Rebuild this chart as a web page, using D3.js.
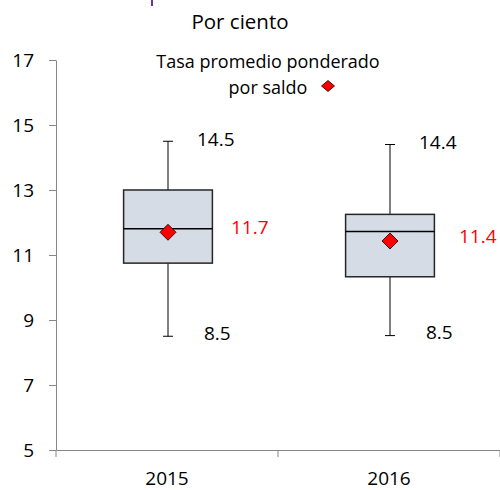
<!DOCTYPE html>
<html><head><meta charset="utf-8">
<script src="https://cdn.jsdelivr.net/npm/d3@7"></script>
<style>body{margin:0;background:#fff}svg{display:block;font-family:"Open Sans",sans-serif}</style>
</head><body>
<svg id="c" width="500" height="490"></svg>
<script>
const categories = ["2015", "2016"];
const whiskerMin = [8.5, 8.52];
const q1 = [10.75, 10.33];
const median = [11.81, 11.72];
const q3 = [13.0, 12.25];
const whiskerMax = [14.5, 14.4];
const meanRate = [11.7, 11.43];
const maxLabels = ["14.5", "14.4"];
const minLabels = ["8.5", "8.5"];
const meanLabels = ["11.7", "11.4"];
const yTicks = [5, 7, 9, 11, 13, 15, 17];

const svg = d3.select("#c");
const y = d3.scaleLinear().domain([5, 17]).range([450, 60]);
const x = d3.scaleBand().domain(categories).range([56, 500]).padding(0);
const fs = 19;

// purple fragment of a title cut off above the picture
svg.append("line").attr("x1", 152).attr("x2", 152).attr("y1", 0).attr("y2", 6)
  .attr("stroke", "#7030a0").attr("stroke-width", 2);

svg.append("text").attr("x", 240).attr("y", 29).attr("text-anchor", "middle")
  .attr("font-size", 20.5).attr("fill", "#000").text("Por ciento");

// y axis
const ya = svg.append("g").attr("transform", "translate(56,0)")
  .call(d3.axisLeft(y).tickValues(yTicks).tickSize(7).tickSizeOuter(0).tickPadding(15));
ya.select(".domain").attr("stroke", "#868686");
ya.selectAll(".tick line").attr("stroke", "#868686");
ya.selectAll(".tick text").attr("font-size", fs).attr("font-family", "Open Sans").attr("fill", "#000");

// x axis
const xa = svg.append("g").attr("transform", "translate(0,450)")
  .call(d3.axisBottom(x).tickSize(0).tickSizeOuter(0).tickPadding(22));
xa.select(".domain").attr("stroke", "#868686");
xa.selectAll(".tick text").attr("font-size", fs).attr("font-family", "Open Sans").attr("fill", "#000");
// boundary ticks
const bounds = categories.map(c => x(c)).concat([x.range()[1]]);
svg.append("g").selectAll("line").data(bounds).join("line")
  .attr("x1", d => d).attr("x2", d => d).attr("y1", 450).attr("y2", 457)
  .attr("stroke", "#868686");

const bw = x.bandwidth() * 0.4;
const g = svg.append("g");
categories.forEach((c, i) => {
  const cx = x(c) + x.bandwidth() / 2 + 1;
  g.append("line").attr("x1", cx).attr("x2", cx).attr("y1", y(whiskerMax[i])).attr("y2", y(q3[i])).attr("stroke", "#000");
  g.append("line").attr("x1", cx).attr("x2", cx).attr("y1", y(q1[i])).attr("y2", y(whiskerMin[i])).attr("stroke", "#000");
  g.append("line").attr("x1", cx - 5).attr("x2", cx + 5).attr("y1", y(whiskerMax[i])).attr("y2", y(whiskerMax[i])).attr("stroke", "#000");
  g.append("line").attr("x1", cx - 5).attr("x2", cx + 5).attr("y1", y(whiskerMin[i])).attr("y2", y(whiskerMin[i])).attr("stroke", "#000");
  g.append("rect").attr("x", cx - bw / 2).attr("y", y(q3[i])).attr("width", bw).attr("height", y(q1[i]) - y(q3[i]))
    .attr("fill", "#d6dce5").attr("stroke", "#262626").attr("stroke-width", 1.5);
  g.append("line").attr("x1", cx - bw / 2).attr("x2", cx + bw / 2).attr("y1", y(median[i])).attr("y2", y(median[i]))
    .attr("stroke", "#000").attr("stroke-width", 1.5);
  const my = y(meanRate[i]);
  g.append("path").attr("d", `M${cx},${my - 8}L${cx + 8},${my}L${cx},${my + 8}L${cx - 8},${my}Z`)
    .attr("fill", "#ff0000").attr("stroke", "#000").attr("stroke-width", 0.8);
  g.append("text").attr("x", cx + 29).attr("y", y(whiskerMax[i]) - 2).attr("dy", "0.35em")
    .attr("font-size", fs).attr("fill", "#000").text(maxLabels[i]);
  g.append("text").attr("x", cx + 36).attr("y", y(whiskerMin[i]) - 3).attr("dy", "0.35em")
    .attr("font-size", fs).attr("fill", "#000").text(minLabels[i]);
  g.append("text").attr("x", cx + 63 + i * 6).attr("y", my - 5).attr("dy", "0.35em")
    .attr("font-size", fs).attr("fill", "#ff0000").text(meanLabels[i]);
});

// legend
svg.append("text").attr("x", 268).attr("y", 62).attr("dy", "0.35em").attr("text-anchor", "middle")
  .attr("font-size", 18).attr("fill", "#000").text("Tasa promedio ponderado");
svg.append("text").attr("x", 268).attr("y", 88).attr("dy", "0.35em").attr("text-anchor", "middle")
  .attr("font-size", 18).attr("fill", "#000").text("por saldo");
svg.append("path").attr("d", "M328,80.5L334.5,86L328,91.5L321.5,86Z")
  .attr("fill", "#ff0000").attr("stroke", "#000").attr("stroke-width", 0.8);
</script>
</body></html>
